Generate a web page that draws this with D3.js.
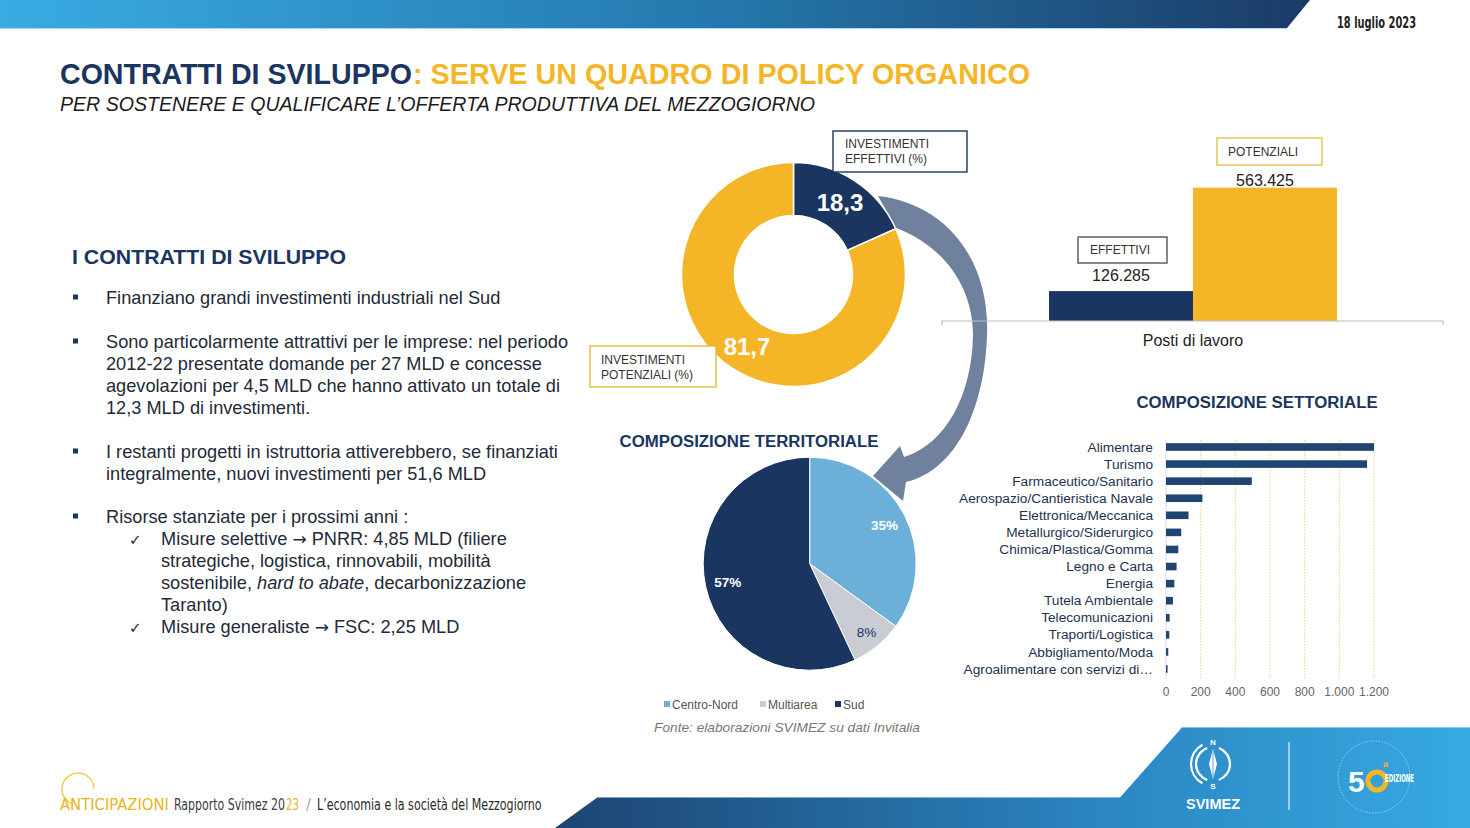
<!DOCTYPE html>
<html><head><meta charset="utf-8">
<script src="https://cdn.jsdelivr.net/npm/d3@7"></script>
<style>
html,body{margin:0;padding:0;background:#fff;}
svg{display:block;font-family:"Liberation Sans",Arial,sans-serif;}
</style></head><body>
<svg id="c" width="1470" height="828"></svg>
<script>
// ---------------- DATA ----------------
const donutCategories = ["Investimenti effettivi", "Investimenti potenziali"];
const donutValues = [18.3, 81.7];

const jobsCategories = ["Effettivi", "Potenziali"];
const jobsValues = [126285, 563425];

const territoryCategories = ["Centro-Nord", "Multiarea", "Sud"];
const territoryValues = [35, 8, 57];

const sectorCategories = ["Alimentare", "Turismo", "Farmaceutico/Sanitario", "Aerospazio/Cantieristica Navale",
  "Elettronica/Meccanica", "Metallurgico/Siderurgico", "Chimica/Plastica/Gomma", "Legno e Carta", "Energia",
  "Tutela Ambientale", "Telecomunicazioni", "Traporti/Logistica", "Abbigliamento/Moda", "Agroalimentare con servizi di…"];
const sectorValues = [1200, 1160, 495, 210, 130, 88, 71, 61, 48, 40, 21, 19, 13, 9];
const sectorTicks = [0, 200, 400, 600, 800, 1000, 1200];

// ---------------- STYLE ----------------
const NAVY = "#1a3560", GOLD = "#f4b526", LBLUE = "#6cb0da", LGREY = "#c9ccd3", BARNAVY = "#1f4570";
const TXT = "#232a38";
const it = d3.formatLocale({decimal: ",", thousands: ".", grouping: [3], currency: ["€", ""]});
const fmtInt = it.format(",d"), fmt1 = it.format(",.1f"), fmtPct = it.format(".0%");

const svg = d3.select("#c");
const defs = svg.append("defs");
function lg(id, x1, x2, stops) {
  const g = defs.append("linearGradient").attr("id", id).attr("gradientUnits", "userSpaceOnUse")
    .attr("x1", x1).attr("x2", x2).attr("y1", 0).attr("y2", 0);
  stops.forEach(s => g.append("stop").attr("offset", s[0]).attr("stop-color", s[1]));
}
lg("topg", 0, 1310, [[0, "#39abe3"], [0.55, "#2478ad"], [1, "#1b3b66"]]);
lg("botg", 555, 1470, [[0, "#1c4472"], [0.6, "#2b86c2"], [1, "#37a9e1"]]);

// ---------------- HEADER ----------------
svg.append("path").attr("d", "M0,0H1310L1287,28H0Z").attr("fill", "url(#topg)");
svg.append("path").attr("d", "M0,28.5H1287").attr("stroke", "#a9d8f0").attr("stroke-width", 1.2);
svg.append("text").attr("x", 1337).attr("y", 28).attr("textLength", 79).attr("lengthAdjust", "spacingAndGlyphs")
  .style("font-family", "'Liberation Sans Narrow','DejaVu Sans Condensed',sans-serif").style("font-size", "16px")
  .style("font-weight", "bold").attr("fill", "#222").text("18 luglio 2023");

svg.append("text").attr("x", 60).attr("y", 84).attr("textLength", 352).attr("lengthAdjust", "spacingAndGlyphs")
  .style("font-size", "30px").style("font-weight", "bold").attr("fill", NAVY).text("CONTRATTI DI SVILUPPO");
svg.append("text").attr("x", 413).attr("y", 84).attr("textLength", 617).attr("lengthAdjust", "spacingAndGlyphs")
  .style("font-size", "30px").style("font-weight", "bold").attr("fill", GOLD).text(": SERVE UN QUADRO DI POLICY ORGANICO");
svg.append("text").attr("x", 60).attr("y", 111).attr("textLength", 755).attr("lengthAdjust", "spacingAndGlyphs")
  .style("font-size", "21px").style("font-style", "italic").attr("fill", "#1b1b1b")
  .text("PER SOSTENERE E QUALIFICARE L’OFFERTA PRODUTTIVA DEL MEZZOGIORNO");

// ---------------- LEFT TEXT ----------------
svg.append("text").attr("x", 72).attr("y", 264).attr("textLength", 274).attr("lengthAdjust", "spacingAndGlyphs")
  .style("font-size", "21px").style("font-weight", "bold").attr("fill", NAVY).text("I CONTRATTI DI SVILUPPO");

const bulletLines = [
  {y: 304, b: "sq", x: 106, s: [["Finanziano grandi investimenti industriali nel Sud"]]},
  {y: 348, b: "sq", x: 106, s: [["Sono particolarmente attrattivi per le imprese: nel periodo"]]},
  {y: 370, x: 106, s: [["2012-22 presentate domande per 27 MLD e concesse"]]},
  {y: 392, x: 106, s: [["agevolazioni per 4,5 MLD che hanno attivato un totale di"]]},
  {y: 414, x: 106, s: [["12,3 MLD di investimenti."]]},
  {y: 458, b: "sq", x: 106, s: [["I restanti progetti in istruttoria attiverebbero, se finanziati"]]},
  {y: 480, x: 106, s: [["integralmente, nuovi investimenti per 51,6 MLD"]]},
  {y: 523, b: "sq", x: 106, s: [["Risorse stanziate per i prossimi anni :"]]},
  {y: 545, b: "ck", x: 161, s: [["Misure selettive "], ["→", 0, 1], [" PNRR: 4,85 MLD (filiere"]]},
  {y: 567, x: 161, s: [["strategiche, logistica, rinnovabili, mobilità"]]},
  {y: 589, x: 161, s: [["sostenibile, "], ["hard to abate", 1], [", decarbonizzazione"]]},
  {y: 611, x: 161, s: [["Taranto)"]]},
  {y: 633, b: "ck", x: 161, s: [["Misure generaliste "], ["→", 0, 1], [" FSC: 2,25 MLD"]]}
];
const bl = svg.append("g").style("font-size", "18.2px").attr("fill", TXT);
bulletLines.forEach(l => {
  const t = bl.append("text").attr("x", l.x).attr("y", l.y);
  l.s.forEach(s => {
    const ts = t.append("tspan").style("font-style", s[1] ? "italic" : "normal").text(s[0]);
    if (s[2]) ts.style("font-family", "'DejaVu Sans',sans-serif").style("font-size", "17px");
  });
  if (l.b === "sq") bl.append("rect").attr("x", 73).attr("y", l.y - 9.5).attr("width", 5).attr("height", 5).attr("fill", NAVY);
  if (l.b === "ck") bl.append("text").attr("x", 129).attr("y", l.y).style("font-family", "'DejaVu Sans',sans-serif")
    .style("font-size", "15px").text("✓");
});

// ---------------- CURVED ARROW ----------------
svg.append("path").attr("fill", "#6f819c")
  .attr("d", "M878,196 C948,204 990,262 987,335 C985,405 958,470 906,482 L903,501 L873,476 L900,446 L904,457 C946,444 972,395 973,335 C973,287 944,246 896,228 Z");

// ---------------- DONUT ----------------
const dC = [793.5, 274.5];
const pie = d3.pie().sort(null).value(d => d);
const dArc = d3.arc().innerRadius(59).outerRadius(112);
const dG = svg.append("g").attr("transform", `translate(${dC[0]},${dC[1]})`);
const dArcs = pie(donutValues);
dG.selectAll("path").data(dArcs).join("path").attr("d", dArc)
  .attr("fill", (d, i) => [NAVY, GOLD][i]).attr("stroke", "#fff").attr("stroke-width", 1.5);
dG.selectAll("text").data(dArcs).join("text").attr("transform", d => `translate(${dArc.centroid(d)})`)
  .attr("text-anchor", "middle").attr("dy", "0.36em").style("font-size", "24px").style("font-weight", "bold")
  .attr("fill", "#fff").text(d => fmt1(d.data));

function box(x, y, w, h, col, lines, tx, ty, lh) {
  const g = svg.append("g");
  g.append("rect").attr("x", x).attr("y", y).attr("width", w).attr("height", h).attr("fill", "#fff")
    .attr("stroke", col).attr("stroke-width", 1.4);
  lines.forEach((t, i) => g.append("text").attr("x", tx).attr("y", ty + i * lh).style("font-size", "12px")
    .attr("fill", "#333").text(t));
}
box(833, 131, 134, 41, NAVY, ["INVESTIMENTI", "EFFETTIVI (%)"], 845, 148, 15);
box(590, 346, 126, 41, "#e9b938", ["INVESTIMENTI", "POTENZIALI (%)"], 601, 364, 15);

// ---------------- JOBS BAR ----------------
const jx = d3.scaleBand().domain(jobsCategories).range([1049, 1337]).padding(0);
const jy = d3.scaleLinear().domain([0, 600000]).range([321, 179]);
const labelGap = [10, 2];
svg.append("g").selectAll("rect").data(jobsValues).join("rect")
  .attr("x", (d, i) => jx(jobsCategories[i])).attr("width", jx.bandwidth())
  .attr("y", d => jy(d)).attr("height", d => jy(0) - jy(d)).attr("fill", (d, i) => [NAVY, GOLD][i]);
svg.append("g").selectAll("text").data(jobsValues).join("text")
  .attr("x", (d, i) => jx(jobsCategories[i]) + jx.bandwidth() / 2).attr("y", (d, i) => jy(d) - labelGap[i])
  .attr("text-anchor", "middle").style("font-size", "16px").attr("fill", "#222").text(d => fmtInt(d));
svg.append("path").attr("d", "M942,325V321H1443V325").attr("fill", "none").attr("stroke", "#bdbdbd").attr("stroke-width", 1.2);
svg.append("text").attr("x", 1193).attr("y", 346).attr("text-anchor", "middle").style("font-size", "16px")
  .attr("fill", "#222").text("Posti di lavoro");
box(1078, 237, 89, 26, "#555", ["EFFETTIVI"], 1090, 254, 0);
box(1217, 138, 105, 27, "#e9c04a", ["POTENZIALI"], 1228, 156, 0);

// ---------------- TITLES ----------------
svg.append("text").attr("x", 1257).attr("y", 408).attr("text-anchor", "middle").style("font-size", "16.8px")
  .style("font-weight", "bold").attr("fill", NAVY).text("COMPOSIZIONE SETTORIALE");
svg.append("text").attr("x", 749).attr("y", 447).attr("text-anchor", "middle").style("font-size", "16.8px")
  .style("font-weight", "bold").attr("fill", NAVY).text("COMPOSIZIONE TERRITORIALE");

// ---------------- PIE ----------------
const pC = [809.7, 563.7];
const pArc = d3.arc().innerRadius(0).outerRadius(106.5);
const lArc = d3.arc().innerRadius(84).outerRadius(84);
const pG = svg.append("g").attr("transform", `translate(${pC[0]},${pC[1]})`);
const pArcs = pie(territoryValues);
const pCols = [LBLUE, LGREY, NAVY];
pG.selectAll("path").data(pArcs).join("path").attr("d", pArc).attr("fill", (d, i) => pCols[i])
  .attr("stroke", "#fff").attr("stroke-width", 1);
pG.selectAll("text").data(pArcs).join("text").attr("transform", (d, i) => {
    const c = lArc.centroid(d); const k = i === 1 ? 1.06 : 1; return `translate(${c[0] * k},${c[1] * k})`;
  })
  .attr("text-anchor", "middle").attr("dy", "0.36em").style("font-size", "13.5px")
  .style("font-weight", (d, i) => i === 1 ? "normal" : "bold")
  .attr("fill", (d, i) => i === 1 ? NAVY : "#fff").text(d => fmtPct(d.data / 100));

const legX = [664, 760, 835];
const leg = svg.append("g").style("font-size", "12px").attr("fill", "#555");
territoryCategories.forEach((c, i) => {
  leg.append("rect").attr("x", legX[i]).attr("y", 701).attr("width", 6).attr("height", 6).attr("fill", pCols[i]);
  leg.append("text").attr("x", legX[i] + 8).attr("y", 708.5).text(c);
});
svg.append("text").attr("x", 654).attr("y", 732).attr("textLength", 266).attr("lengthAdjust", "spacingAndGlyphs")
  .style("font-size", "13px").style("font-style", "italic")
  .attr("fill", "#777").text("Fonte: elaborazioni SVIMEZ su dati Invitalia");

// ---------------- SECTOR BARS ----------------
const sx = d3.scaleLinear().domain([0, 1200]).range([1166, 1374]);
const sy = d3.scalePoint().domain(sectorCategories).range([447, 669]);
const sG = svg.append("g");
sG.selectAll("line.grid").data(sectorTicks.slice(1)).join("line").attr("class", "grid")
  .attr("x1", d => sx(d)).attr("x2", d => sx(d)).attr("y1", 440).attr("y2", 678)
  .attr("stroke", "#e6d38e").attr("stroke-width", 1).attr("stroke-dasharray", "1.5,1.5");
sG.append("line").attr("x1", sx(0)).attr("x2", sx(0)).attr("y1", 440).attr("y2", 678).attr("stroke", "#d6d9de");
sG.selectAll("rect").data(sectorValues).join("rect")
  .attr("x", sx(0)).attr("y", (d, i) => sy(sectorCategories[i]) - 3.8).attr("height", 7.6)
  .attr("width", d => sx(d) - sx(0)).attr("fill", BARNAVY);
sG.selectAll("text.cat").data(sectorCategories).join("text").attr("class", "cat")
  .attr("x", 1153).attr("y", d => sy(d) + 4.6).attr("text-anchor", "end").style("font-size", "13.7px")
  .attr("fill", "#22324f").text(d => d);
sG.selectAll("text.tick").data(sectorTicks).join("text").attr("class", "tick")
  .attr("x", d => sx(d)).attr("y", 696).attr("text-anchor", "middle").style("font-size", "12px")
  .attr("fill", "#666").text(d => fmtInt(d));

// ---------------- FOOTER ----------------
svg.append("path").attr("d", "M598,797H1120L1182,727H1470V828H555Z").attr("fill", "url(#botg)");
svg.append("path").attr("d", "M598,797H1120L1182,727H1470").attr("fill", "none").attr("stroke", "#e8f4fb").attr("stroke-width", 1);
svg.append("path").attr("d", d3.arc()({innerRadius: 16, outerRadius: 16, startAngle: 3.45, endAngle: 2 * Math.PI + 1.55}))
  .attr("transform", "translate(78,789)").attr("fill", "none").attr("stroke", "#f3c531").attr("stroke-width", 1.2);
const NARROW = "'Liberation Sans Narrow','DejaVu Sans Condensed',sans-serif";
// each footer piece is squeezed horizontally to its slot (x start, x end)
const footerParts = [["ANTICIPAZIONI", "#e9b520", 60, 169], ["Rapporto Svimez 20", "#3a3a3a", 174, 285],
  ["23", "#e9b520", 286, 299], ["/", "#aaa", 306, 311], ["L’economia e la società del Mezzogiorno", "#2a2a2a", 317, 542]];
footerParts.forEach(p => {
  const g = svg.append("g");
  const t = g.append("text").attr("x", 0).attr("y", 0).style("font-family", NARROW).style("font-size", "16px")
    .attr("fill", p[1]).text(p[0]);
  const w = t.node().getComputedTextLength();
  g.attr("transform", `translate(${p[2]},810) scale(${(p[3] - p[2]) / w},1)`);
});

// SVIMEZ logo
const lg1 = svg.append("g").attr("transform", "translate(1213,764)").attr("fill", "none").attr("stroke", "#fff");
lg1.append("path").attr("d", d3.arc()({innerRadius: 17, outerRadius: 17, startAngle: 0.35, endAngle: Math.PI - 0.35})).attr("stroke-width", 2.2);
lg1.append("path").attr("d", d3.arc()({innerRadius: 17, outerRadius: 17, startAngle: Math.PI + 0.35, endAngle: 2 * Math.PI - 0.35})).attr("stroke-width", 2.2);
lg1.append("path").attr("d", d3.arc()({innerRadius: 22, outerRadius: 22, startAngle: Math.PI + 0.5, endAngle: 2 * Math.PI - 0.5})).attr("stroke-width", 2.2);
lg1.append("path").attr("d", "M0,-15L4,0L0,15L-4,0Z").attr("fill", "#fff").attr("stroke", "none");
lg1.append("path").attr("d", "M0,-13V13").attr("stroke", "#2a8ac6").attr("stroke-width", 0.8);
lg1.append("text").attr("x", 0).attr("y", -19).attr("text-anchor", "middle").attr("fill", "#fff").attr("stroke", "none")
  .style("font-size", "8px").style("font-weight", "bold").text("N");
lg1.append("text").attr("x", 0).attr("y", 25).attr("text-anchor", "middle").attr("fill", "#fff").attr("stroke", "none")
  .style("font-size", "8px").style("font-weight", "bold").text("S");
svg.append("text").attr("x", 1213).attr("y", 809).attr("text-anchor", "middle").attr("textLength", 54)
  .attr("lengthAdjust", "spacingAndGlyphs").style("font-size", "14px").style("font-weight", "bold").attr("fill", "#fff").text("SVIMEZ");
svg.append("line").attr("x1", 1289).attr("x2", 1289).attr("y1", 742).attr("y2", 810).attr("stroke", "#e6f3fb").attr("stroke-width", 1.2);

// 50 edizione logo
const lg2 = svg.append("g");
lg2.append("circle").attr("cx", 1374).attr("cy", 777).attr("r", 36).attr("fill", "none")
  .attr("stroke", "#d8eaf5").attr("stroke-width", 0.8).attr("stroke-dasharray", "1.5,1.5").attr("opacity", 0.8);
lg2.append("text").attr("x", 1348).attr("y", 792).style("font-size", "30px").style("font-weight", "bold")
  .attr("fill", "#fff").text("5");
lg2.append("circle").attr("cx", 1377).attr("cy", 781).attr("r", 9).attr("fill", "none").attr("stroke", "#f4b526").attr("stroke-width", 5);
lg2.append("text").attr("x", 1383).attr("y", 767).style("font-size", "9px").style("font-weight", "bold").attr("fill", "#f4b526").text("a");
lg2.append("text").attr("x", 1385).attr("y", 782).attr("textLength", 29).attr("lengthAdjust", "spacingAndGlyphs")
  .style("font-family", NARROW).style("font-size", "10px").style("font-weight", "bold").attr("fill", "#fff").text("EDIZIONE");
</script></body></html>
